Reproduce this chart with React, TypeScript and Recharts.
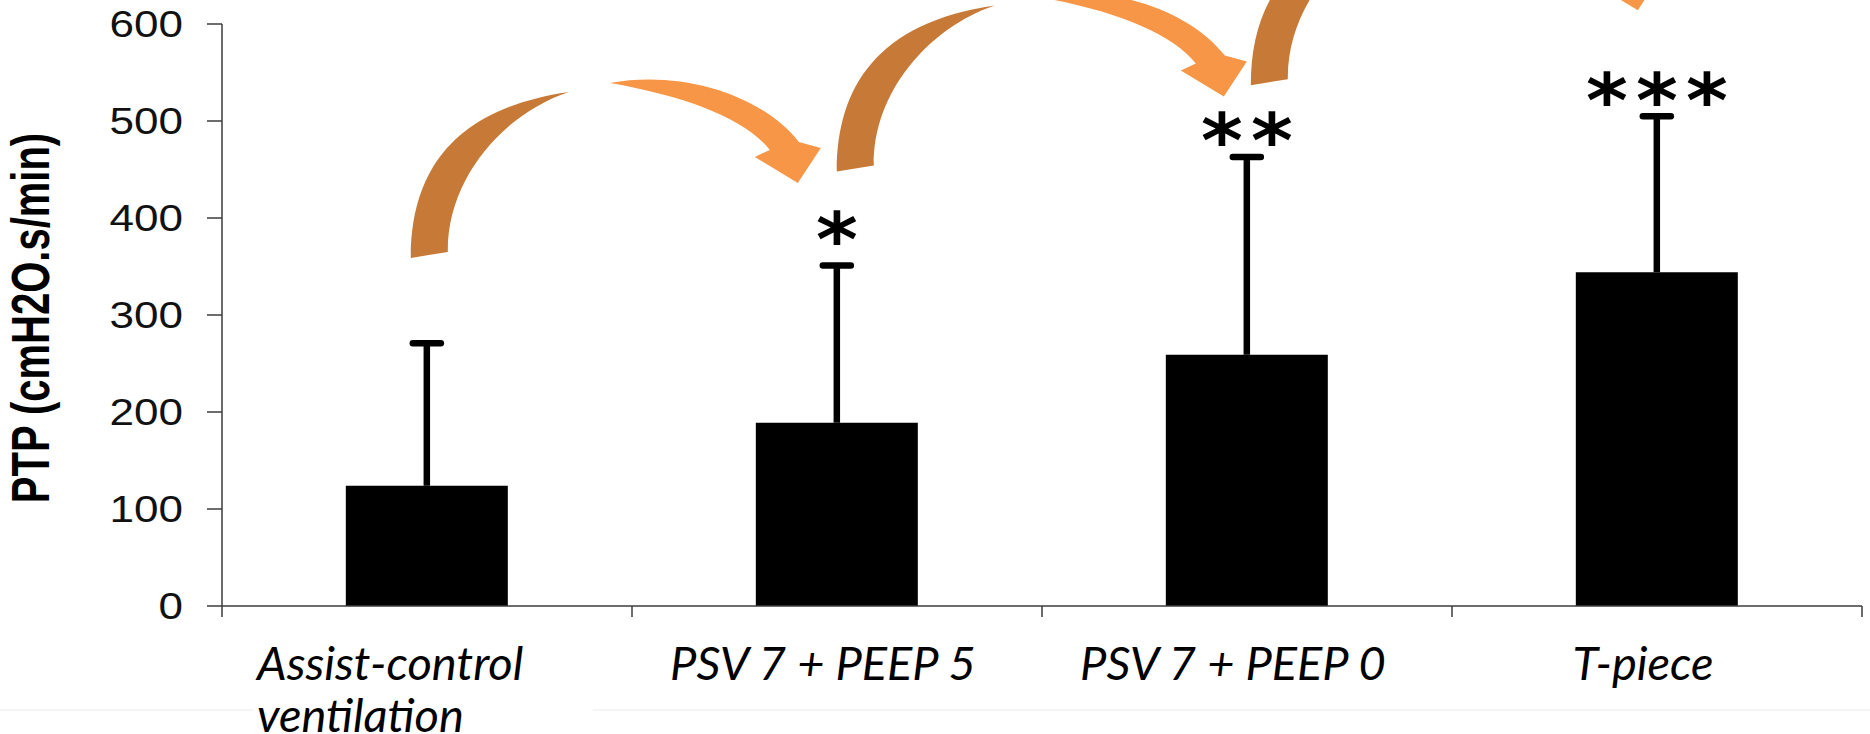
import React from 'react';
import { BarChart, Bar, XAxis, YAxis, LabelList } from 'recharts';

// ---- data ----
const categories = ['Assist-control\nventilation', 'PSV 7 + PEEP 5', 'PSV 7 + PEEP 0', 'T-piece'];
const ptpMean = [124, 189, 259, 344];
const ptpSD = [147, 162, 204, 161];
const significance = ['', '*', '**', '***'];
const yTicks = [0, 100, 200, 300, 400, 500, 600];
const yLabel = 'PTP (cmH2O.s/min)';

const data = categories.map((c, i) => ({ name: c, ptp: ptpMean[i], sd: ptpSD[i], sig: significance[i] }));

// ---- layout / style ----
const W = 1870;
const H = 734;
const M_TOP = 24;
const Y_AXIS_W = 222;
const X_AXIS_H = 128;
const M_RIGHT = 8;
const PLOT_W = W - Y_AXIS_W - M_RIGHT;
const DARK = '#C77A37';
const LIGHT = '#F79646';
const AXIS = '#3c3c3c';
const ARIAL = "'Liberation Sans', Arial, Helvetica, sans-serif";
const LABEL_FONT = "Lato, 'Open Sans', 'Noto Sans', sans-serif";
const ARROW_DX = [-16, 0, 4];

function YTick(props: any) {
  const { x, y, payload } = props;
  return (
    <g transform={`translate(${x},${y}) scale(1.19,1)`}>
      <text x={0} y={0} dy="0.36em" textAnchor="end" fontFamily={ARIAL} fontSize={37} fill="#111">
        {payload.value}
      </text>
    </g>
  );
}

function XTick(props: any) {
  const { x, y, payload, index } = props;
  const off = payload && typeof payload.offset === 'number' && payload.offset > 0 ? payload.offset : PLOT_W / categories.length / 2;
  const lines = String(payload.value).split('\n');
  const base = y + 74;
  return (
    <g>
      <line x1={x + off} x2={x + off} y1={y} y2={y + 11} stroke={AXIS} strokeWidth={1.5} />
      {index === 0 && <line x1={x - off} x2={x - off} y1={y} y2={y + 11} stroke={AXIS} strokeWidth={1.5} />}
      {index === 0 && (
        <g>
          <line x1={0} x2={x - 173} y1={y + 104} y2={y + 104} stroke="#ececec" strokeWidth={1} />
          <line x1={x + 166} x2={W} y1={y + 104} y2={y + 104} stroke="#ececec" strokeWidth={1} />
        </g>
      )}
      {lines.length > 1
        ? lines.map((l, i) => (
            <text key={i} x={x - 170} y={base + i * 52} textAnchor="start" fontFamily={LABEL_FONT} fontStyle="italic" fontSize={47} fill="#000">
              {l}
            </text>
          ))
        : (
            <text x={x - 14} y={base} textAnchor="middle" fontFamily={LABEL_FONT} fontStyle="italic" fontSize={47} fill="#000">
              {lines[0]}
            </text>
          )}
    </g>
  );
}

function YTitle(props: any) {
  const vb = props.viewBox || { x: 0, y: M_TOP, width: Y_AXIS_W, height: H - M_TOP - X_AXIS_H };
  const cy = vb.y + vb.height / 2 + 3;
  const bx = vb.x + 49;
  return (
    <g transform={`translate(${bx},${cy}) scale(1.32,1) rotate(-90)`}>
      <text x={0} y={0} textAnchor="middle" fontFamily={ARIAL} fontWeight="bold" fontSize={40} fill="#000">
        {yLabel}
      </text>
    </g>
  );
}

const DARK_PATH = 'M 0 4 C 0 -80, 40 -145, 158 -162 C 92 -140, 36 -75, 37 -2 Z';
const LIGHT_PATH = 'M 199 -171 C 270 -184, 350 -160, 388 -112 L 410 -106 L 387 -71 L 344 -97 L 359 -104 C 335 -135, 275 -158, 199 -171 Z';

function Annotation(props: any) {
  const vb = props.viewBox || {};
  const x = props.x ?? vb.x;
  const y = props.y ?? vb.y;
  const w = props.width ?? vb.width;
  const h = props.height ?? vb.height;
  let idx = props.index;
  if (idx === undefined || idx === null) idx = data.findIndex((d) => d.ptp === props.value);
  const d = data[idx];
  if (!d || !h) return null;
  const pxPerUnit = h / d.ptp;
  const baseY = y + h;
  const yPx = (v: number) => baseY - v * pxPerUnit;
  const cx = x + w / 2;
  const capY = yPx(d.ptp + d.sd);
  const n = d.sig.length;
  const starFs = 74;
  const starCy = capY - (n === 1 ? 42 : 32);
  const hasArrow = idx < categories.length - 1;
  const ox = cx + (ARROW_DX[idx] ?? 0);
  const oy = yPx(363 + 89 * idx);
  return (
    <g>
      <line x1={cx} x2={cx} y1={y} y2={capY} stroke="#000" strokeWidth={6.5} />
      <line x1={cx - 14} x2={cx + 14} y1={capY} y2={capY} stroke="#000" strokeWidth={6.5} strokeLinecap="round" />
      {Array.from({ length: n }).map((_, j) => (
        <text
          key={j}
          x={0}
          y={0}
          transform={`translate(${cx + (j - (n - 1) / 2) * 50},${starCy + 0.575 * starFs}) scale(1.08,1)`}
          textAnchor="middle"
          fontFamily="'DejaVu Sans', sans-serif"
          fontWeight="bold"
          fontSize={starFs}
          fill="#000"
        >
          *
        </text>
      ))}
      {hasArrow && (
        <g transform={`translate(${ox},${oy})`}>
          <path d={DARK_PATH} fill={DARK} />
          <path d={LIGHT_PATH} fill={LIGHT} />
        </g>
      )}
    </g>
  );
}

export default function App() {
  return (
    <div style={{ position: 'absolute', left: 0, top: 0, width: W, height: H, background: '#fff' }}>
      <BarChart
        width={W}
        height={H}
        data={data}
        margin={{ top: M_TOP, right: M_RIGHT, bottom: 0, left: 0 }}
        barCategoryGap="30.2%"
      >
        <XAxis
          dataKey="name"
          height={X_AXIS_H}
          tickLine={false}
          tickSize={0}
          tickMargin={0}
          axisLine={{ stroke: AXIS, strokeWidth: 1.5 }}
          tick={<XTick />}
          interval={0}
        />
        <YAxis
          width={Y_AXIS_W}
          domain={[0, 600]}
          ticks={yTicks}
          interval={0}
          tickSize={15}
          tickMargin={24}
          axisLine={{ stroke: AXIS, strokeWidth: 1.5 }}
          tickLine={{ stroke: AXIS, strokeWidth: 1.5 }}
          tick={<YTick />}
          label={{ value: yLabel, content: (p: any) => <YTitle {...p} /> }}
        />
        <Bar dataKey="ptp" fill="#000" isAnimationActive={false}>
          <LabelList dataKey="ptp" content={(p: any) => <Annotation {...p} />} />
        </Bar>
      </BarChart>
    </div>
  );
}
